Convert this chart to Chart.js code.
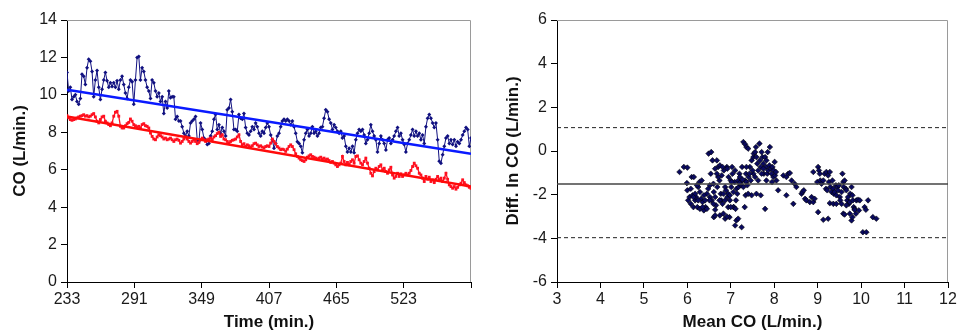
<!DOCTYPE html>
<html>
<head>
<meta charset="utf-8">
<script src="https://cdn.jsdelivr.net/npm/chart.js@4.4.1/dist/chart.umd.min.js"></script>
<style>
  body { margin: 0; background: #fff; }
  #wrap { display: flex; width: 957px; height: 335px; }
  .box { position: relative; height: 335px; }
</style>
</head>
<body>
<div id="wrap">
  <div class="box" style="width:478px"><canvas id="timeChart"></canvas></div>
  <div class="box" style="width:479px"><canvas id="baChart"></canvas></div>
</div>
<script>
// time axis (min.)
const firstTime = 233;
const lastTime = 581;
const timeTicks = [233, 291, 349, 407, 465, 523, 581];

// CO, method 1 (blue) and method 2 (red), evenly sampled from firstTime to lastTime
const blueCO = [
  11.2, 10.2, 10.4, 9.75, 9.9, 10.0, 9.65, 9.5, 9.8, 11.1,
  11.0, 10.55, 11.45, 11.9, 11.8, 11.25, 9.9, 10.8, 11.3, 10.4,
  9.75, 10.3, 10.8, 11.2, 10.75, 10.4, 10.65, 10.45, 10.65, 10.4,
  10.75, 10.3, 10.8, 11.0, 10.55, 10.1, 9.8, 10.4, 10.8, 10.7,
  9.5, 10.8, 12.0, 12.05, 10.8, 11.45, 11.25, 10.8, 10.4, 10.2,
  9.8, 10.8, 10.65, 10.2, 9.9, 10.1, 9.65, 9.9, 9.0, 9.65,
  9.3, 10.2, 9.85, 9.9, 9.9, 8.7, 8.85, 8.6, 8.6, 8.3,
  7.95, 7.8, 8.05, 7.8, 8.5, 8.6, 8.7, 8.85, 7.6, 7.5,
  8.5, 8.15, 7.7, 7.6, 7.35, 7.4, 7.8, 8.05, 8.7, 8.95,
  8.15, 8.4, 7.95, 8.25, 8.05, 7.8, 9.2, 9.3, 9.75, 9.1,
  8.15, 8.15, 8.05, 8.95, 8.75, 8.7, 9.0, 8.25, 7.95, 7.85,
  8.05, 8.3, 8.15, 8.5, 8.3, 7.95, 7.8, 8.05, 7.95, 8.25,
  8.5, 8.3, 7.85, 7.6, 7.15, 7.4, 7.8, 7.95, 8.3, 8.6,
  8.7, 8.6, 8.7, 8.6, 8.4, 8.6, 8.3, 7.95, 7.5, 7.4,
  7.25, 6.9, 7.6, 7.95, 8.15, 7.8, 7.95, 8.3, 7.95, 8.05,
  7.8, 7.95, 8.25, 8.3, 8.75, 9.2, 9.1, 8.7, 8.5, 8.15,
  8.4, 8.25, 8.05, 7.95, 8.05, 7.7, 7.8, 7.25, 6.95, 7.15,
  6.95, 7.25, 6.9, 7.6, 7.95, 8.15, 8.05, 8.15, 7.85, 7.4,
  7.6, 7.95, 8.4, 8.05, 7.8, 7.6, 6.95, 7.4, 7.8, 7.6,
  7.4, 7.05, 7.6, 7.7, 7.4, 7.6, 7.8, 8.05, 8.25, 7.8,
  7.95, 7.6, 7.35, 6.95, 7.4, 7.6, 7.85, 8.15, 7.8, 8.05,
  7.8, 7.95, 7.6, 7.85, 7.4, 8.3, 8.75, 8.95, 8.75, 8.5,
  8.25, 8.5, 7.6, 6.45, 6.35, 6.8, 7.25, 7.7, 7.8, 7.4,
  7.6, 7.35, 7.6, 7.25, 7.5, 7.4, 7.6, 7.85, 8.05, 8.25,
  8.15, 7.25, 7.7
];
const redCO = [
  8.89, 8.77, 8.68, 8.64, 8.68, 8.71, 8.77, 8.82, 8.86, 8.89,
  8.94, 8.86, 8.89, 8.82, 8.86, 8.94, 9.0, 8.82, 8.59, 8.5,
  8.68, 8.82, 8.86, 8.59, 8.5, 8.41, 8.35, 8.5, 8.86, 9.07,
  9.12, 8.86, 8.32, 8.23, 8.23, 8.35, 8.46, 8.53, 8.71, 8.59,
  8.41, 8.35, 8.28, 8.32, 8.23, 8.41, 8.46, 8.35, 8.32, 8.23,
  7.96, 7.78, 7.64, 7.6, 7.75, 7.87, 7.82, 7.75, 7.64, 7.69,
  7.6, 7.64, 7.69, 7.6, 7.51, 7.6, 7.64, 7.57, 7.42, 7.51,
  7.64, 7.75, 7.64, 7.51, 7.42, 7.51, 7.6, 7.51, 7.39, 7.46,
  7.6, 7.69, 7.6, 7.51, 7.6, 7.64, 7.69, 7.6, 7.75, 7.82,
  7.93, 8.0, 7.78, 7.87, 7.64, 7.6, 7.51, 7.42, 7.51, 7.57,
  7.6, 7.64, 7.75, 7.87, 7.51, 7.33, 7.39, 7.24, 7.33, 7.28,
  7.21, 7.28, 7.39, 7.42, 7.33, 7.24, 7.28, 7.21, 7.16, 7.24,
  7.28, 7.24, 7.42, 7.64, 7.51, 7.39, 7.24, 7.16, 7.07, 7.1,
  7.07, 6.98, 7.1, 7.24, 7.33, 7.24, 7.07, 6.85, 6.71, 6.62,
  6.53, 6.49, 6.44, 6.53, 6.67, 6.74, 6.8, 6.71, 6.67, 6.62,
  6.57, 6.62, 6.67, 6.57, 6.62, 6.53, 6.57, 6.49, 6.39, 6.44,
  6.35, 6.26, 6.17, 6.26, 6.35, 6.71, 6.44, 6.26, 6.39, 6.26,
  6.44, 6.53, 6.35, 6.71, 6.74, 6.53, 6.35, 6.26, 6.44, 6.62,
  6.35, 6.08, 5.81, 5.67, 5.9, 6.08, 5.99, 6.17, 6.26, 5.99,
  6.08, 5.9, 5.81, 5.99, 6.13, 5.72, 5.55, 5.64, 5.81, 5.64,
  5.78, 5.64, 5.72, 5.81, 5.72, 5.81, 5.96, 6.17, 6.35, 6.21,
  6.08, 5.81, 5.72, 5.55, 5.37, 5.64, 5.49, 5.6, 5.37, 5.46,
  5.31, 5.49, 5.64, 5.46, 5.55, 5.37, 5.55, 5.81, 5.49, 5.19,
  5.1, 5.01, 5.1, 4.96, 5.06, 5.19, 5.28, 5.46, 5.31, 5.19,
  5.14, 5.06, 5.01
];
// regression lines: value at firstTime, value at lastTime
const blueTrend = [10.28, 6.85];
const redTrend = [8.85, 5.1];

// Bland-Altman: mean CO vs difference in CO
const meanCO = [
  5.82, 5.92, 6.00, 5.99, 6.00, 6.02, 6.05, 6.08, 6.10, 6.12,
  6.14, 6.18, 6.20, 6.23, 6.25, 6.28, 6.29, 6.32, 6.35, 6.38,
  6.42, 6.45, 6.48, 6.49, 6.52, 6.55, 6.58, 6.60, 6.61, 6.64,
  6.66, 6.68, 6.69, 6.71, 6.74, 6.75, 6.77, 6.78, 6.81, 6.83,
  6.84, 6.87, 6.89, 6.91, 6.92, 6.94, 6.95, 6.97, 6.98, 7.00,
  7.01, 7.03, 7.04, 7.06, 7.07, 7.09, 7.10, 7.12, 7.13, 7.15,
  7.17, 7.18, 7.20, 7.21, 7.23, 7.24, 7.26, 7.29, 7.32, 7.33,
  7.35, 7.36, 6.61, 6.64, 6.87, 6.91, 7.10, 7.13, 7.17, 7.25,
  7.06, 6.94, 6.87, 6.79, 6.71, 6.52, 6.56, 6.45, 6.38, 6.33,
  6.22, 6.18, 6.29, 6.14, 6.08, 6.54, 6.64, 6.75, 6.81, 6.92,
  7.02, 6.83, 6.68, 6.60, 6.51, 6.41, 6.35, 6.25, 6.15, 6.74,
  6.98, 7.11, 7.20, 7.27, 7.34, 6.64, 7.00, 7.29, 7.33, 7.36,
  7.40, 7.44, 7.48, 7.52, 7.53, 7.56, 7.58, 7.59, 7.61, 7.63,
  7.66, 7.67, 7.69, 7.71, 7.73, 7.75, 7.76, 7.79, 7.81, 7.82,
  7.84, 7.86, 7.89, 7.90, 7.92, 7.94, 7.96, 7.98, 7.99, 8.02,
  8.04, 8.05, 7.52, 7.46, 7.41, 7.36, 7.50, 7.56, 7.63, 7.79,
  7.69, 7.59, 7.48, 7.40, 7.38, 7.43, 7.71, 7.82, 7.95, 8.09,
  7.75, 7.85, 8.01, 8.21, 8.28, 8.32, 8.36, 8.40, 8.47, 8.51,
  8.28, 8.44, 8.63, 8.65, 8.68, 8.71, 8.74, 8.82, 8.90, 8.86,
  8.93, 8.90, 8.99, 9.01, 9.03, 9.05, 9.06, 9.09, 9.13, 9.16,
  9.19, 9.20, 9.22, 9.24, 9.26, 9.28, 9.29, 9.32, 9.34, 9.36,
  9.37, 9.39, 9.42, 9.43, 9.45, 9.47, 9.49, 9.51, 9.52, 9.55,
  9.57, 9.59, 9.60, 9.62, 9.65, 9.66, 9.68, 9.70, 9.72, 9.74,
  9.75, 9.78, 9.80, 9.81, 9.83, 9.85, 9.88, 9.89, 9.93, 9.97,
  9.01, 9.13, 9.24, 9.28, 9.36, 9.59, 9.62, 9.78, 9.80, 9.85,
  10.08, 10.11, 10.16, 10.27, 10.35, 10.04, 10.12, 9.43, 9.55, 9.66,
  9.74, 9.95
];
const diffCO = [
  -0.96, -0.73, -0.76, -1.47, -1.80, -2.26, -2.11, -2.42, -1.19, -2.03,
  -2.57, -2.26, -2.11, -2.57, -1.65, -1.42, -2.65, -2.19, -2.34, -2.72,
  -2.57, -2.65, -1.73, -0.12, -1.57, -0.05, -0.43, -1.50, -1.88, -2.11,
  -2.49, -0.43, -1.65, -0.73, -1.35, -2.95, -1.96, -2.26, -2.42, -2.87,
  -0.89, -1.65, -1.80, -0.73, -2.11, -2.57, -1.19, -3.03, -2.26, -1.35,
  -1.65, -0.73, -1.04, -1.88, -2.57, -1.42, -0.89, -2.26, -1.73, -1.96,
  -1.35, -1.65, -1.04, -1.19, -1.42, -1.57, -0.73, -1.65, -2.57, -1.35,
  -1.04, -1.42, -3.03, -2.95, -3.10, -3.00, -3.41, -3.18, -3.10, -3.49,
  -2.57, -1.96, -2.26, -1.12, -1.19, -2.11, -2.26, -1.96, -2.03, -1.35,
  -1.57, -1.96, -1.88, -2.11, -1.73, -1.04, -0.81, -0.66, -0.73, -0.81,
  -1.42, -1.96, -1.04, -2.42, -2.26, -2.26, -2.57, -2.26, -1.19, -2.26,
  -2.03, -2.65, -1.47, -1.31, -2.03, -2.69, -2.57, 0.41, 0.31, 0.18,
  0.11, -0.73, -0.43, -0.28, -0.12, -0.05, 0.18, -0.28, -0.58, -0.89,
  0.34, -0.43, -0.73, -0.05, -0.28, -0.58, -1.04, -0.28, -0.73, -0.43,
  -1.04, -0.89, -0.66, 0.18, -0.81, -1.04, -0.73, -1.19, -0.89, -1.12,
  -0.96, -1.35, -1.04, -1.35, -1.19, -0.73, -0.89, -1.19, -1.35, -2.65,
  -2.03, -1.96, -2.03, -1.96, -1.57, -1.04, -1.04, -1.35, -1.42, -1.80,
  -0.81, -0.05, -0.50, -1.12, -1.19, -1.04, -1.01, -1.35, -1.50, -1.65,
  -2.03, -2.42, -1.96, -1.88, -1.80, -2.19, -2.26, -2.34, -2.34, -2.11,
  -2.19, -0.96, -1.42, -0.73, -0.89, -1.04, -1.35, -1.50, -1.35, -1.04,
  -1.73, -0.96, -1.80, -1.12, -1.42, -0.96, -1.65, -1.88, -1.35, -1.73,
  -1.96, -1.88, -1.57, -2.03, -1.65, -1.80, -1.57, -2.11, -2.26, -1.88,
  -1.04, -1.42, -1.65, -1.35, -1.73, -1.80, -2.26, -2.11, -2.42, -2.34,
  -1.96, -1.65, -2.03, -2.26, -2.57, -2.65, -2.87, -2.26, -2.23, -2.26,
  -2.80, -3.15, -3.10, -2.39, -2.42, -2.87, -2.91, -3.18, -3.03, -2.69,
  -2.57, -2.69, -2.26, -3.03, -3.10, -3.72, -3.72, -2.42, -2.42, -2.49,
  -2.87, -2.72
];
const meanRange = [3, 12];
const upperLimit = 1.07;
const bias = -1.51;
const lowerLimit = -3.97;

const FONT = "'Liberation Sans', Arial, sans-serif";
const tickFont = { family: FONT, size: 16 };
const titleFont = { family: FONT, size: 17, weight: 'bold' };

// keep the plot boxes where they are in the figure
function fixWidth(w) {
    return scale => { scale.width = w; scale.paddingTop = 0; scale.paddingBottom = 0; };
}
function fixHeight(h) {
    return scale => { scale.height = h; scale.paddingLeft = 0; scale.paddingRight = 0; };
}

// grey frame on top and right of the plot area
const framePlugin = {
    id: 'frame',
    beforeDatasetsDraw(chart) {
        const { ctx, chartArea: a } = chart;
        ctx.save();
        ctx.strokeStyle = '#9a9a9a';
        ctx.lineWidth = 1;
        ctx.beginPath();
        ctx.moveTo(a.left, Math.round(a.top) + 0.5);
        ctx.lineTo(Math.round(a.right) - 0.5, Math.round(a.top) + 0.5);
        ctx.lineTo(Math.round(a.right) - 0.5, a.bottom);
        ctx.stroke();
        ctx.restore();
    }
};

function axis(extra) {
    return Object.assign({
        type: 'linear',
        border: { display: true, color: '#000', width: 1 },
        grid: { drawOnChartArea: false, drawTicks: true, tickLength: 6, color: '#000' },
        ticks: { font: tickFont, color: '#1a1a1a', padding: 3, maxRotation: 0, autoSkip: false }
    }, extra);
}

const timeStep = (lastTime - firstTime) / (blueCO.length - 1);
const toPoints = arr => arr.map((v, i) => ({ x: firstTime + i * timeStep, y: v }));
const trendPoints = t => [{ x: firstTime, y: t[0] }, { x: lastTime, y: t[1] }];

new Chart(document.getElementById('timeChart'), {
    type: 'line',
    data: {
        datasets: [
            { data: trendPoints(blueTrend), borderColor: '#0a1aff', borderWidth: 2.5, pointRadius: 0 },
            { data: trendPoints(redTrend), borderColor: '#ff0a0a', borderWidth: 2.5, pointRadius: 0 },
            { data: toPoints(redCO), borderColor: '#ff1020', borderWidth: 1.3, pointStyle: 'rect',
              pointRadius: 2, pointBackgroundColor: '#ff1020', pointBorderWidth: 0 },
            { data: toPoints(blueCO), borderColor: '#101080', borderWidth: 1, pointStyle: 'rectRot',
              pointRadius: 2, pointBackgroundColor: '#101080', pointBorderWidth: 0 }
        ]
    },
    options: {
        responsive: true,
        maintainAspectRatio: false,
        animation: false,
        layout: { padding: { left: 0, right: 7, top: 20, bottom: 0 } },
        plugins: { legend: { display: false }, tooltip: { enabled: false } },
        scales: {
            x: axis({
                min: firstTime, max: lastTime,
                afterBuildTicks: scale => { scale.ticks = timeTicks.map(v => ({ value: v })); },
                afterFit: fixHeight(53),
                ticks: { font: tickFont, color: '#1a1a1a', padding: 2, maxRotation: 0, autoSkip: false,
                         callback: v => (v === lastTime ? '' : v) },
                title: { display: true, text: 'Time (min.)', font: titleFont, color: '#111',
                         padding: { top: 0, bottom: 2 } }
            }),
            y: axis({
                min: 0, max: 14,
                afterFit: fixWidth(67),
                ticks: { font: tickFont, color: '#1a1a1a', padding: 4, stepSize: 2 },
                title: { display: true, text: 'CO (L/min.)', font: titleFont, color: '#111',
                         padding: { top: 10, bottom: 0 } }
            })
        }
    },
    plugins: [framePlugin]
});

const hLine = y => [{ x: meanRange[0], y: y }, { x: meanRange[1], y: y }];

new Chart(document.getElementById('baChart'), {
    type: 'scatter',
    data: {
        datasets: [
            { type: 'line', data: hLine(upperLimit), borderColor: '#222', borderWidth: 1,
              borderDash: [4, 3], pointRadius: 0 },
            { type: 'line', data: hLine(bias), borderColor: '#444', borderWidth: 1.5, pointRadius: 0 },
            { type: 'line', data: hLine(lowerLimit), borderColor: '#222', borderWidth: 1,
              borderDash: [4, 3], pointRadius: 0 },
            { data: meanCO.map((m, i) => ({ x: m, y: diffCO[i] })), pointStyle: 'rectRot',
              pointRadius: 2.8, backgroundColor: '#0a0a60', borderColor: '#000', borderWidth: 0.6 }
        ]
    },
    options: {
        responsive: true,
        maintainAspectRatio: false,
        animation: false,
        layout: { padding: { left: 0, right: 9, top: 20, bottom: 0 } },
        plugins: { legend: { display: false }, tooltip: { enabled: false } },
        scales: {
            x: axis({
                min: meanRange[0], max: meanRange[1],
                afterFit: fixHeight(53),
                ticks: { font: tickFont, color: '#1a1a1a', padding: 2, stepSize: 1, maxRotation: 0 },
                title: { display: true, text: 'Mean CO (L/min.)', font: titleFont, color: '#111',
                         padding: { top: 0, bottom: 2 } }
            }),
            y: axis({
                min: -6, max: 6,
                afterFit: fixWidth(79),
                ticks: { font: tickFont, color: '#1a1a1a', padding: 4, stepSize: 2 },
                title: { display: true, text: 'Diff. In CO (L/min.)', font: titleFont, color: '#111',
                         padding: { top: 25, bottom: 0 } }
            })
        }
    },
    plugins: [framePlugin]
});
</script>
</body>
</html>
